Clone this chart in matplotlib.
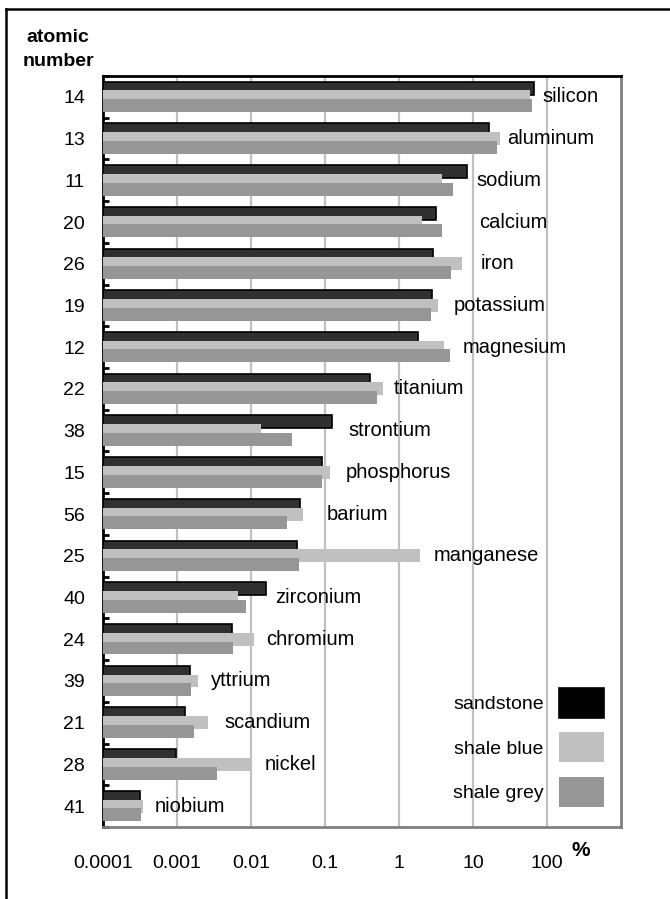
import matplotlib
matplotlib.use('Agg')
import matplotlib.pyplot as plt
import numpy as np
from matplotlib.lines import Line2D

plt.rcParams['font.family'] = ['Liberation Sans', 'DejaVu Sans']

# data (percent, log scale)
elements = ['silicon', 'aluminum', 'sodium', 'calcium', 'iron', 'potassium', 'magnesium',
            'titanium', 'strontium', 'phosphorus', 'barium', 'manganese', 'zirconium',
            'chromium', 'yttrium', 'scandium', 'nickel', 'niobium']
atomic_numbers = [14, 13, 11, 20, 26, 19, 12, 22, 38, 15, 56, 25, 40, 24, 39, 21, 28, 41]
sandstone = [67, 16.5, 8.2, 3.2, 2.9, 2.8, 1.8, 0.41, 0.126, 0.092, 0.046, 0.042,
             0.0158, 0.0055, 0.0015, 0.0013, 0.00098, 0.00032]
shale_blue = [59, 23, 3.8, 2.06, 7.2, 3.4, 4.0, 0.60, 0.0138, 0.117, 0.050, 1.9,
              0.0067, 0.011, 0.0019, 0.0026, 0.0102, 0.00035]
shale_grey = [62, 21, 5.4, 3.8, 5.1, 2.7, 4.9, 0.50, 0.036, 0.092, 0.031, 0.045,
              0.0085, 0.0058, 0.00155, 0.0017, 0.0035, 0.00033]
# where each element name starts
label_x = [88, 29, 11, 12, 12.5, 5.4, 7.2, 0.86, 0.21, 0.19, 0.107, 2.9,
           0.0214, 0.0158, 0.0029, 0.0044, 0.0155, 0.0005]
xticks = [0.0001, 0.001, 0.01, 0.1, 1, 10, 100]
xticklabels = ['0.0001', '0.001', '0.01', '0.1', '1', '10', '100']

xmin, xmax = 1e-4, 1e3
fig = plt.figure(figsize=(6.7, 8.99), dpi=100)
ax = fig.add_axes([103 / 670, 1 - 827 / 899, (621 - 103) / 670, (827 - 76) / 899])
ax.set_xscale('log')
ax.set_xlim(xmin, xmax)

y = np.arange(len(elements))
h = 0.31
s = 0.21
ax.barh(y - s, np.array(sandstone) - xmin, left=xmin, height=h, color='#303030',
        edgecolor='black', linewidth=1.2, label='sandstone', zorder=3)
ax.barh(y, np.array(shale_blue) - xmin, left=xmin, height=h, color='#c0c0c0',
        linewidth=0, label='shale blue', zorder=4)
ax.barh(y + s, np.array(shale_grey) - xmin, left=xmin, height=h, color='#969696',
        linewidth=0, label='shale grey', zorder=5)

for i in range(len(elements)):
    ax.text(label_x[i], y[i], elements[i], fontsize=14.5, va='center', ha='left', zorder=6)

ax.set_ylim(len(elements) - 0.5, -0.5)

# y axis: numbers in the middle of each band, ticks between bands
ax.set_yticks(np.arange(len(elements) + 1) - 0.5)
ax.set_yticklabels([])
ax.set_yticks(y, minor=True)
ax.set_yticklabels([str(a) for a in atomic_numbers], minor=True, fontsize=14)
ax.tick_params(axis='y', which='major', direction='in', length=4, width=2, color='black')
ax.tick_params(axis='y', which='minor', length=0, pad=13)

ax.set_xticks(xticks)
ax.set_xticklabels(xticklabels, fontsize=14)
ax.xaxis.set_minor_locator(matplotlib.ticker.NullLocator())
ax.tick_params(axis='x', which='major', length=0, pad=20)
ax.grid(axis='x', which='major', color='#c0c0c0', linewidth=1.6, zorder=0)
ax.set_axisbelow(True)

ax.spines['left'].set_color('black')
ax.spines['left'].set_linewidth(2)
ax.spines['top'].set_color('black')
ax.spines['top'].set_linewidth(2)
ax.spines['right'].set_color('#808080')
ax.spines['right'].set_linewidth(2)
ax.spines['bottom'].set_color('#808080')
ax.spines['bottom'].set_linewidth(2)

fig.text(58 / 670, 1 - 37 / 899, 'atomic', fontsize=14, fontweight='bold', ha='center', va='center')
fig.text(58 / 670, 1 - 62 / 899, 'number', fontsize=14, fontweight='bold', ha='center', va='center')
fig.text(572 / 670, 1 - 851 / 899, '%', fontsize=15, fontweight='bold', ha='left', va='center')

leg = ax.legend(loc='lower right', bbox_to_anchor=(604 / 670, 1 - 807 / 899),
                bbox_transform=fig.transFigure, frameon=False, markerfirst=False,
                fontsize=14, handlelength=2.3, handleheight=2.0, labelspacing=0.75,
                handletextpad=0.8, borderpad=0, borderaxespad=0)
leg.legend_handles[0].set_facecolor('black')

# outer frame, cut off at right and bottom
fig.add_artist(Line2D([6 / 670, 6 / 670], [0, 1 - 9 / 899], color='black', linewidth=1.8))
fig.add_artist(Line2D([6 / 670, 1], [1 - 9 / 899, 1 - 9 / 899], color='black', linewidth=1.8))

fig.savefig('out.png', dpi=100)
